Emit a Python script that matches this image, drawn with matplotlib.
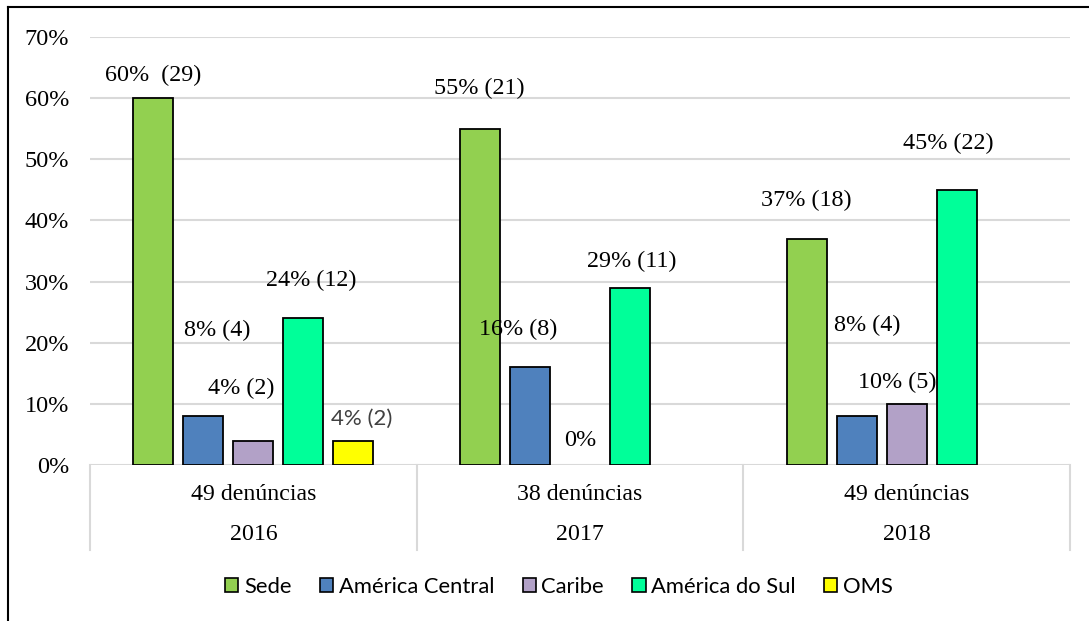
import matplotlib
matplotlib.use("Agg")
import matplotlib.pyplot as plt
from matplotlib.lines import Line2D
from matplotlib.patches import Patch
import numpy as np

# ---- data ----
years = ["2016", "2017", "2018"]
reports = ["49 denúncias", "38 denúncias", "49 denúncias"]
series_names = ["Sede", "América Central", "Caribe", "América do Sul", "OMS"]
sede = [60, 55, 37]
america_central = [8, 16, 8]
caribe = [4, 0, 10]
america_sul = [24, 29, 45]
oms = [4, None, None]
labels = [
    ["60%  (29)", "55% (21)", "37% (18)"],
    ["8% (4)", "16% (8)", "8% (4)"],
    ["4% (2)", "0%", "10% (5)"],
    ["24% (12)", "29% (11)", "45% (22)"],
    ["4% (2)", None, None],
]

# ---- styling ----
colors = ["#92D050", "#4F81BD", "#B2A1C7", "#00FF99", "#FFFF00"]
# label offsets from the top of each bar, in pixels (dx, dy)
label_offsets = [
    [(0, 23), (-1, 40), (0, 38)],
    [(14, 86), (-12, 38), (11, 91)],
    [(-12, 52), (0, 25), (-9, 21)],
    [(8, 38), (2, 26), (-8, 46)],
    [(8, 22), None, None],
]

serif = "Liberation Serif"
sans = ["Lato", "Liberation Sans", "DejaVu Sans"]

W, H, DPI = 1089, 621, 100
fig = plt.figure(figsize=(W / DPI, H / DPI), dpi=DPI)
fig.patch.set_facecolor("white")

left, right, top, bottom = 90, 1070, 37, 465
ax = fig.add_axes([left / W, 1 - bottom / H, (right - left) / W, (bottom - top) / H])

series = [sede, america_central, caribe, america_sul, oms]
x = np.arange(len(years))
slot = 50 / ((right - left) / 3)
bar_w = 40 / ((right - left) / 3)

for i, vals in enumerate(series):
    for j, v in enumerate(vals):
        if v is None:
            continue
        xc = x[j] + (i - 2) * slot
        if v > 0:
            ax.bar(xc, v, width=bar_w, color=colors[i], edgecolor="black",
                   linewidth=1.3, zorder=3)
        lab = labels[i][j]
        off = label_offsets[i][j]
        if lab is None or off is None:
            continue
        kw = dict(xy=(xc, v), xytext=(off[0] * 72 / DPI, off[1] * 72 / DPI),
                  textcoords="offset points", ha="center", va="center", zorder=4)
        if i == 4:
            ax.annotate(lab, fontsize=16, family=sans, color="#404040", **kw)
        else:
            ax.annotate(lab, fontsize=17.4, family=serif, color="black", **kw)

ax.set_xlim(-0.5, 2.5)
ax.set_ylim(0, 70)
ax.set_yticks(np.arange(0, 71, 10))
ax.set_yticklabels([f"{t}%" for t in range(0, 71, 10)], family=serif, fontsize=17.5)
ax.tick_params(axis="y", length=0, pad=15)
ax.set_xticks([])
ax.grid(axis="y", color="#D9D9D9", linewidth=1.5, zorder=0)
for s in ax.spines.values():
    s.set_visible(False)

# two-level category axis
trans = ax.get_xaxis_transform()
sep_bottom = -(550 - bottom) / (bottom - top)
for b in [-0.5, 0.5, 1.5, 2.5]:
    ax.plot([b, b], [0, sep_bottom], transform=trans, color="#D9D9D9",
            linewidth=1.5, clip_on=False)
for j in range(len(years)):
    ax.text(x[j], -(495 - bottom) / (bottom - top), reports[j], transform=trans,
            ha="center", va="center", family=serif, fontsize=17.2)
    ax.text(x[j], -(535 - bottom) / (bottom - top), years[j], transform=trans,
            ha="center", va="center", family=serif, fontsize=17.2)

# legend
handles = [Patch(facecolor=c, edgecolor="black", linewidth=1.2) for c in colors]
leg = fig.legend(handles, series_names, loc="center", bbox_to_anchor=(559 / W, 1 - 587 / H),
                 ncol=5, frameon=False, prop={"family": sans, "size": 15.8},
                 handlelength=0.6, handleheight=0.6, handletextpad=0.25,
                 columnspacing=1.3)

# outer frame (top and left edges)
fig.add_artist(Line2D([8 / W, 8 / W], [0, 1 - 7 / H], color="black", linewidth=1.5,
                      transform=fig.transFigure))
fig.add_artist(Line2D([8 / W, 1], [1 - 7 / H, 1 - 7 / H], color="black", linewidth=1.5,
                      transform=fig.transFigure))

fig.savefig("out.png", dpi=DPI)
